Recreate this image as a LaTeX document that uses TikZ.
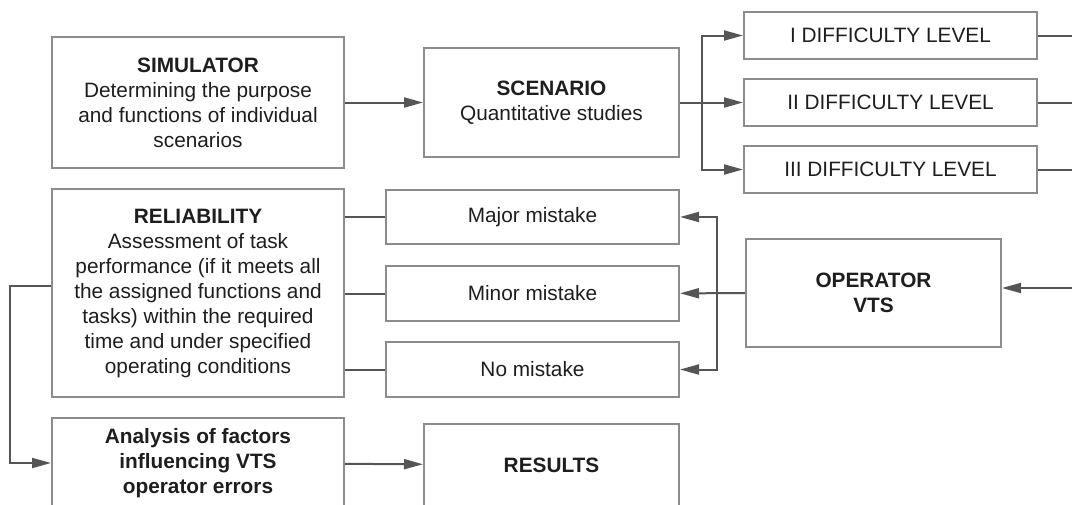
\documentclass[tikz,border=0pt]{standalone}
\usepackage{fontspec}
\setmainfont{Liberation Sans}
\usepackage{xcolor}
\usepackage{tikz}
\usetikzlibrary{positioning,arrows.meta,calc}
\definecolor{boxgray}{HTML}{8C8C8C}
\definecolor{linegray}{HTML}{555555}
\definecolor{txtgray}{HTML}{1E1E1E}
\tikzset{
  box/.style={draw=boxgray,line width=2pt,fill=white,align=center,inner sep=4pt,text=txtgray,
    font=\fontsize{20.8}{25}\selectfont},
  lvl/.style={box,minimum width=293pt,minimum height=47pt},
  mis/.style={box,minimum width=293pt,minimum height=55pt},
  ln/.style={draw=linegray,line width=2pt},
  arr/.style={ln,-{Triangle[length=19pt,width=10pt]}},
}

\begin{document}
\begin{tikzpicture}[x=1pt,y=-1pt]
\useasboundingbox (0,0) rectangle (1072,504);
% left column
\node[box, minimum width=292pt, minimum height=131pt] (sim) at (198,102.5)
  {\textbf{SIMULATOR}\\Determining the purpose\\and functions of individual\\scenarios};
\node[box, minimum width=292pt, minimum height=208pt] (rel) at (198,293)
  {\textbf{RELIABILITY}\\Assessment of task\\performance (if it meets all\\the assigned functions and\\tasks) within the required\\time and under specified\\operating conditions};
\node[box, minimum width=292pt, minimum height=90pt] (ana) at (198,463)
  {\textbf{Analysis of factors}\\\textbf{influencing VTS}\\\textbf{operator errors}};
% middle column
\node[box, minimum width=255pt, minimum height=109pt] (scen) at (551.5,102.5)
  {\textbf{SCENARIO}\\Quantitative studies};
\node[mis, minimum height=54pt] (maj) at (532.5,217) {Major mistake};
\node[mis] (min) at (532.5,293.5) {Minor mistake};
\node[mis] (no) at (532.5,369.5) {No mistake};
\node[box, minimum width=255pt, minimum height=82pt] (res) at (551.5,465) {\textbf{RESULTS}};
% right column
\node[lvl] (lv1) at (890.5,35.5) {I DIFFICULTY LEVEL};
\node[lvl] (lv2) at (890.5,102.5) {II DIFFICULTY LEVEL};
\node[lvl] (lv3) at (890.5,169.5) {III DIFFICULTY LEVEL};
\node[box, minimum width=255pt, minimum height=108pt] (op) at (873.5,293)
  {\textbf{OPERATOR}\\\textbf{VTS}};

\coordinate (br) at (702,102.5);
\coordinate (opbr) at (717,293);
\coordinate (lp) at (10,286);
\coordinate (opin) at (1080,288);
\coordinate (out1) at (1080,35.5);
\coordinate (out2) at (1080,102.5);
\coordinate (out3) at (1080,169.5);

% connectors
\draw[arr] (sim) -- (scen);
\draw[arr] (scen) -- (lv2);
\draw[arr] (br) |- (lv1);
\draw[arr] (br) |- (lv3);
\draw[ln] (lv1) -- (out1);
\draw[ln] (lv2) -- (out2);
\draw[ln] (lv3) -- (out3);
\draw[arr] (opin) -- (opin -| op.east);
\draw[arr] (op) -- (min);
\draw[arr] (opbr) |- (maj);
\draw[arr] (opbr) |- (no);
\draw[ln] (maj.west -| rel.east) -- (maj);
\draw[ln] (min.west -| rel.east) -- (min);
\draw[ln] (no.west -| rel.east) -- (no);
\draw[arr] (lp -| rel.west) -- (lp) |- (ana);
\draw[arr] (ana) -- (res);
\end{tikzpicture}
\end{document}
